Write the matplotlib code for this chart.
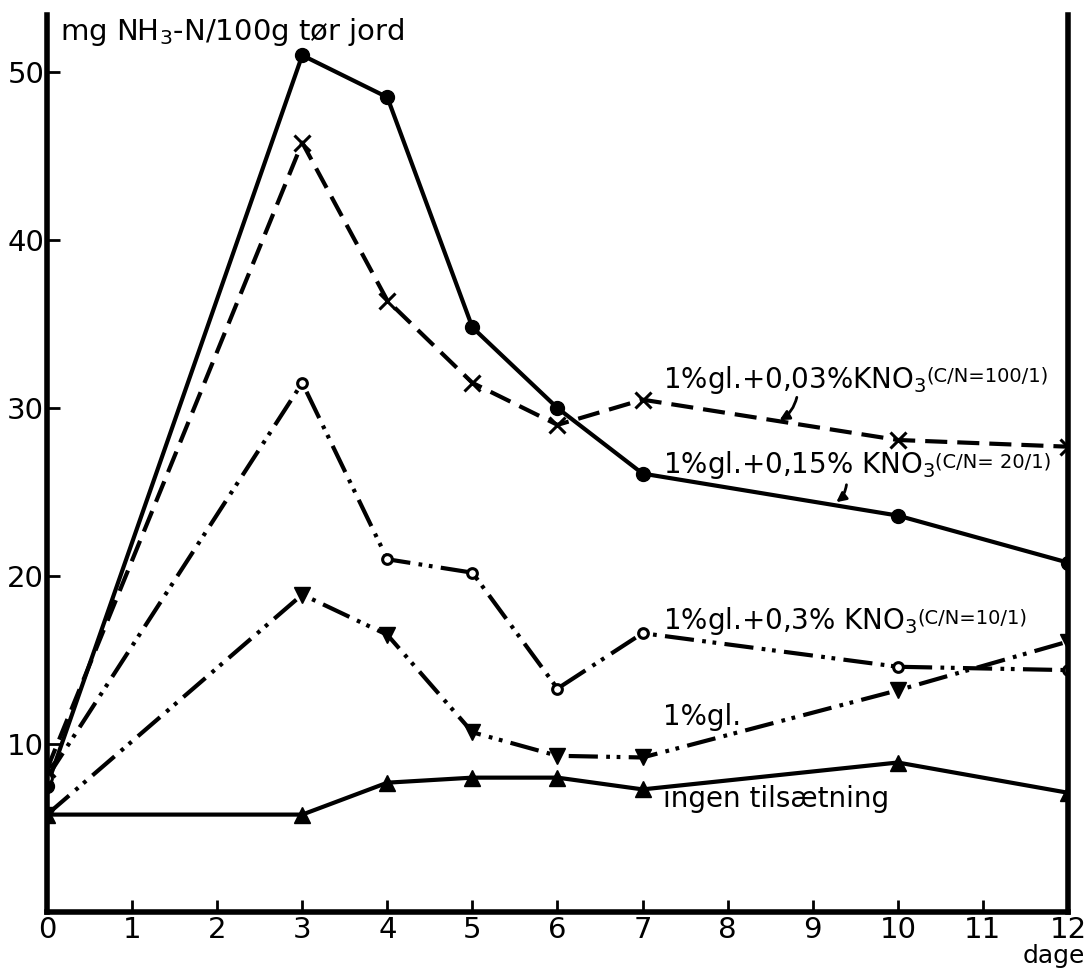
import matplotlib.pyplot as plt

plt.rcParams["font.family"] = ["DejaVu Sans"]
plt.rcParams["mathtext.fontset"] = "dejavusans"

# -----------------------------
# Data
# -----------------------------
days = [0, 3, 4, 5, 6, 7, 10, 12]

cn_20 = [7.5, 51.0, 48.5, 34.8, 30.0, 26.1, 23.6, 20.8]      # filled circles, solid
cn_100 = [8.5, 45.8, 36.4, 31.5, 29.0, 30.5, 28.1, 27.7]     # x, dashed
cn_10 = [8.0, 31.5, 21.0, 20.2, 13.3, 16.6, 14.6, 14.4]      # open circles, dash-dot-dot
gl_only = [5.8, 18.9, 16.5, 10.7, 9.3, 9.2, 13.2, 16.1]      # down triangles, dash-dot-dot
control = [5.8, 5.8, 7.7, 8.0, 8.0, 7.3, 8.9, 7.1]           # up triangles, solid

x_ticks = list(range(0, 13))
y_ticks = [10, 20, 30, 40, 50]

# -----------------------------
# Figure
# -----------------------------
fig = plt.figure(figsize=(10.86, 9.72), dpi=100)
ax = fig.add_axes([0.0433, 0.0617, 0.9401, 0.9229])

lw = 3.0
ddot = (0, (7, 2, 0.9, 1.6, 0.9, 2))

ax.plot(days, cn_20, color="black", lw=lw, ls="-", marker="o", ms=10)
ax.plot(days, cn_100, color="black", lw=lw, ls=(0, (5.3, 2.4)),
        marker="x", ms=11, mew=2.2)
ax.plot(days, cn_10, color="black", lw=lw, ls=ddot, marker="o", ms=7,
        mfc="white", mew=2.2)
ax.plot(days, gl_only, color="black", lw=lw, ls=ddot, marker="v", ms=11)
ax.plot(days, control, color="black", lw=lw, ls="-", marker="^", ms=11)

ax.set_xlim(0, 12)
ax.set_ylim(0, 53.4)

for side in ["left", "bottom", "right"]:
    ax.spines[side].set_linewidth(4)
ax.spines["top"].set_visible(False)

ax.set_xticks(x_ticks)
ax.set_yticks(y_ticks)
ax.tick_params(direction="in", length=9, width=2, labelsize=21, pad=4)
ax.tick_params(axis="x", labelsize=21, pad=3)
ax.tick_params(axis="y", pad=2, right=False)

# -----------------------------
# Texts
# -----------------------------
ax.text(0.15, 52.4, "mg NH$_3$-N/100g tør jord", fontsize=21, va="center")
fig.text(0.999, 0.009, "dage", fontsize=18, ha="right", va="baseline")


def label(x, y, main, small):
    t = ax.text(x, y, main, fontsize=20, va="center")
    ax.annotate(small, xy=(1, 0.6), xycoords=t, fontsize=14,
                va="center", ha="left")
    return t


label(7.24, 31.7, "1%gl.+0,03%KNO$_3$", "(C/N=100/1)")
label(7.24, 26.6, "1%gl.+0,15% KNO$_3$", "(C/N= 20/1)")
label(7.24, 17.3, "1%gl.+0,3% KNO$_3$", "(C/N=10/1)")
ax.text(7.24, 11.6, "1%gl.", fontsize=20, va="center")
ax.text(7.24, 6.7, "ingen tilsætning", fontsize=20, va="center")

arrow = dict(arrowstyle="-|>", color="black", lw=2, mutation_scale=14,
             connectionstyle="arc3,rad=-0.25")
ax.annotate("", xy=(8.58, 29.2), xytext=(8.82, 30.8), arrowprops=arrow)
ax.annotate("", xy=(9.25, 24.3), xytext=(9.4, 25.6), arrowprops=arrow)

fig.savefig("out.png", dpi=100)
